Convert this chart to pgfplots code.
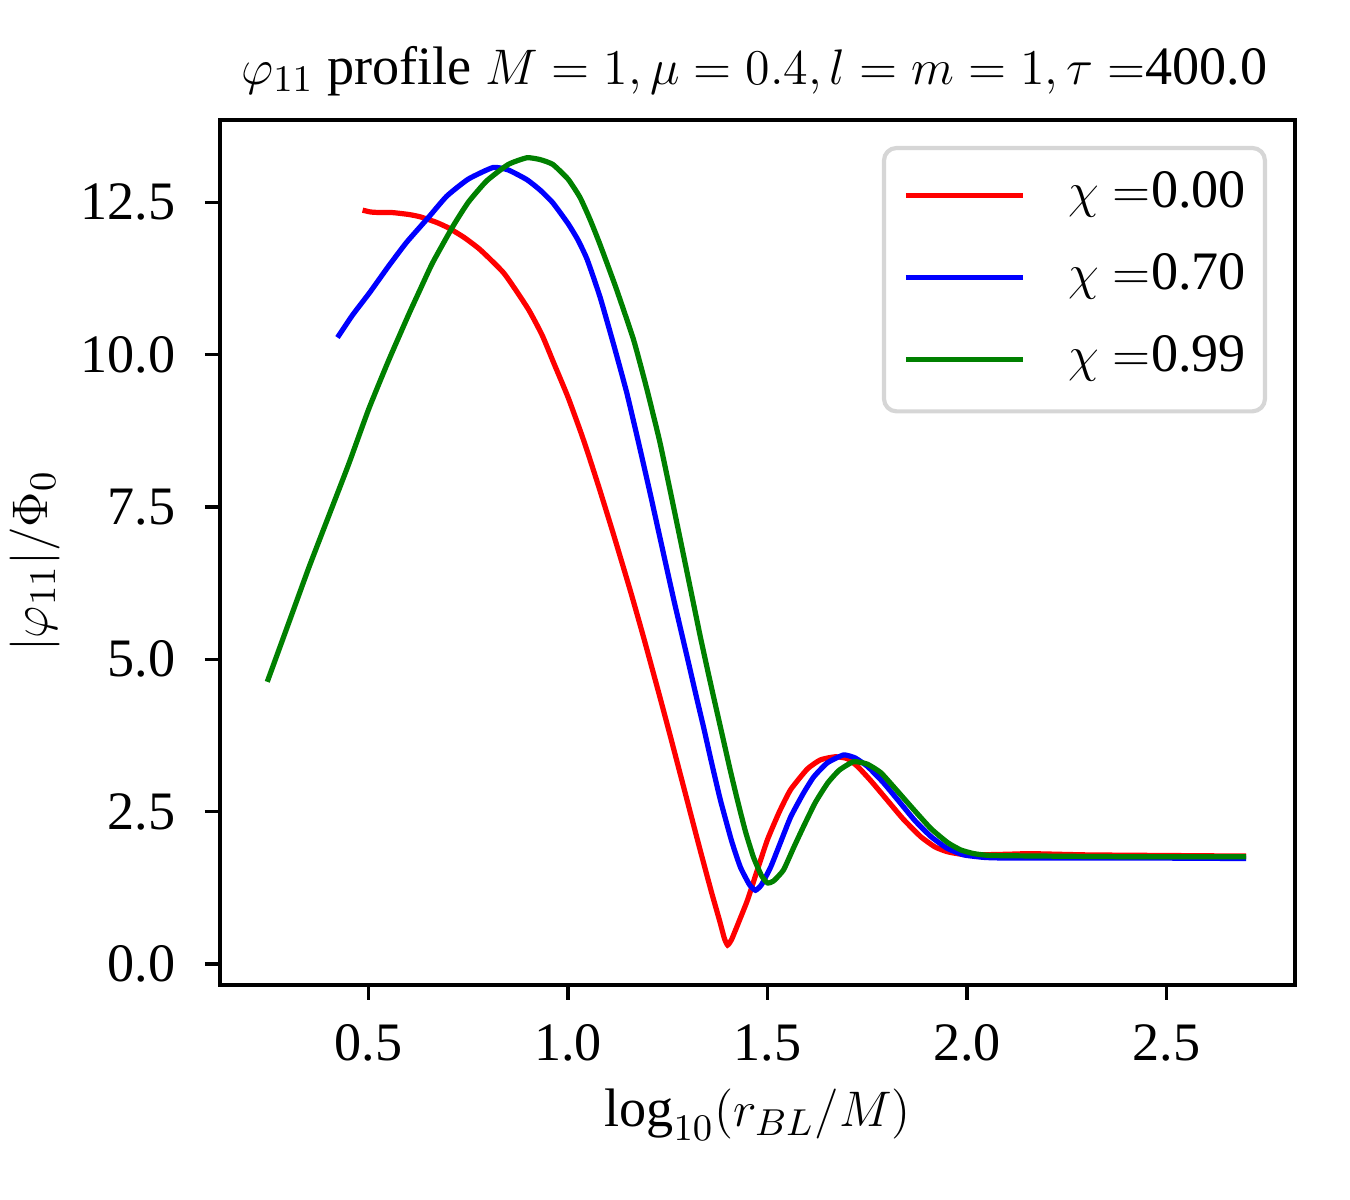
\documentclass[border=0pt]{standalone}
\usepackage{fontspec}
\setmainfont{Liberation Serif}
\usepackage{pgfplots}
\pgfplotsset{compat=1.18}
\definecolor{mred}{RGB}{255,0,0}
\definecolor{mblue}{RGB}{0,0,255}
\definecolor{mgreen}{RGB}{0,128,0}
\begin{document}
\fontsize{13}{15.6}\selectfont
\begin{tikzpicture}
\useasboundingbox (0,0) rectangle (324pt,288pt);
\begin{axis}[
  at={(52.8pt,51.6pt)}, anchor=south west,
  scale only axis, width=258pt, height=207.6pt,
  xmin=0.1275, xmax=2.8225, ymin=-0.345, ymax=13.85,
  xtick={0.5,1.0,1.5,2.0,2.5},
  ytick={0,2.5,5.0,7.5,10.0,12.5},
  xtick pos=lower, ytick pos=left,
  tick align=outside, major tick length=3.6pt,
  major tick style={line width=0.8pt, black},
  axis line style={line width=0.8pt},
  /pgf/number format/assume math mode=true,
  /pgf/number format/fixed, /pgf/number format/fixed zerofill,
  /pgf/number format/precision=1,
  xticklabel style={anchor=center, yshift=-10.3pt},
  yticklabel style={anchor=east, inner sep=0pt, xshift=-6.9pt},
  title={$\varphi_{11}$ profile $M=1,\mu=0.4,l=m=1,\tau=$400.0},
  title style={at={(axis description cs:0.497,1.0278)}, anchor=center, yshift=0pt,
    font=\fontsize{13}{15.6}\selectfont},
  xlabel={$\log_{10}(r_{BL}/M)$},
  xlabel style={at={(axis description cs:0.5,-0.1503)}, anchor=center},
  ylabel={$|\varphi_{11}|/\Phi_0$},
  ylabel style={at={(axis description cs:-0.172,0.49)}, anchor=center},
  legend style={at={(0.974,0.970)}, anchor=north east,
    draw=black!16, line width=1pt, rounded corners=3pt,
    fill=white, fill opacity=0.8, text opacity=1,
    inner xsep=4.6pt, inner ysep=5.9pt, row sep=7.7pt, column sep=10.2pt,
    nodes={inner sep=0pt, text height=8.3pt, text depth=3.7pt}},
  legend cell align=left,
  legend image code/.code={\draw[#1, line width=1.25pt] (0pt,0.5pt) -- (28.2pt,0.5pt);},
  every axis plot/.append style={line width=1.25pt},
]
\addplot[mred, smooth, tension=0.3] coordinates {
(0.485,12.37) (0.505,12.34) (0.53,12.33) (0.56,12.33) (0.60,12.30) (0.63,12.26)
(0.67,12.17) (0.70,12.08) (0.74,11.92) (0.78,11.72) (0.84,11.33) (0.90,10.75)
(0.935,10.32) (0.965,9.85) (1.00,9.30) (1.034,8.69) (1.055,8.28) (1.08,7.77)
(1.114,7.05) (1.156,6.13) (1.189,5.37) (1.227,4.46) (1.256,3.75) (1.29,2.90)
(1.33,1.90) (1.36,1.17) (1.38,0.71) (1.392,0.42) (1.40,0.31) (1.41,0.40)
(1.43,0.72) (1.45,1.05) (1.475,1.55) (1.50,2.04) (1.53,2.5) (1.558,2.86) (1.60,3.2) (1.633,3.35)
(1.67,3.40) (1.70,3.37) (1.726,3.24) (1.76,3.0) (1.80,2.69) (1.84,2.38) (1.884,2.09)
(1.92,1.92) (1.952,1.84) (2.0,1.79) (2.1,1.80) (2.16,1.81) (2.3,1.79) (2.5,1.78) (2.7,1.77)
};
\addlegendentry{$\chi =$0.00}
\addplot[mblue, smooth, tension=0.3] coordinates {
(0.422,10.28) (0.46,10.65) (0.503,11.02) (0.55,11.45) (0.595,11.84) (0.65,12.25)
(0.696,12.6) (0.75,12.88) (0.812,13.07) (0.85,13.03) (0.897,12.87) (0.93,12.70)
(0.962,12.49) (1.0,12.15) (1.025,11.88) (1.048,11.56) (1.08,10.95) (1.115,10.15)
(1.147,9.38) (1.177,8.55) (1.206,7.72) (1.231,6.98) (1.265,5.98) (1.30,5.0)
(1.323,4.35) (1.340,3.88) (1.36,3.3) (1.382,2.69) (1.41,2.02) (1.432,1.59) (1.455,1.3)
(1.470,1.21) (1.485,1.3) (1.508,1.59) (1.53,1.95) (1.558,2.41) (1.59,2.8) (1.616,3.07)
(1.65,3.3) (1.691,3.43) (1.72,3.38) (1.751,3.24) (1.79,2.98) (1.827,2.69) (1.87,2.35)
(1.91,2.09) (1.95,1.9) (1.992,1.79) (2.04,1.75) (2.08,1.74) (2.2,1.74) (2.4,1.74) (2.7,1.73)
};
\addlegendentry{$\chi =$0.70}
\addplot[mgreen, smooth, tension=0.3] coordinates {
(0.246,4.63) (0.30,5.6) (0.35,6.5) (0.40,7.35) (0.45,8.2) (0.50,9.1) (0.55,9.9)
(0.60,10.65) (0.628,11.05) (0.66,11.5) (0.711,12.10) (0.75,12.5) (0.796,12.85)
(0.85,13.12) (0.897,13.23) (0.93,13.2) (0.962,13.12) (1.0,12.88) (1.03,12.58)
(1.055,12.22) (1.08,11.81) (1.12,11.1) (1.164,10.25) (1.195,9.5) (1.229,8.6)
(1.255,7.8) (1.281,6.98) (1.298,6.44) (1.315,5.9) (1.332,5.36) (1.35,4.82)
(1.365,4.38) (1.39,3.66) (1.407,3.17) (1.425,2.68) (1.445,2.17) (1.465,1.75)
(1.485,1.45) (1.50,1.33) (1.515,1.36) (1.54,1.54) (1.565,1.9) (1.59,2.25)
(1.62,2.65) (1.651,2.97) (1.68,3.18) (1.716,3.32) (1.75,3.28) (1.784,3.14) (1.82,2.88)
(1.867,2.53) (1.91,2.22) (1.952,1.99) (1.985,1.87) (2.018,1.81) (2.06,1.78) (2.2,1.77)
(2.4,1.76) (2.7,1.76)
};
\addlegendentry{$\chi =$0.99}
\end{axis}
\end{tikzpicture}
\end{document}
